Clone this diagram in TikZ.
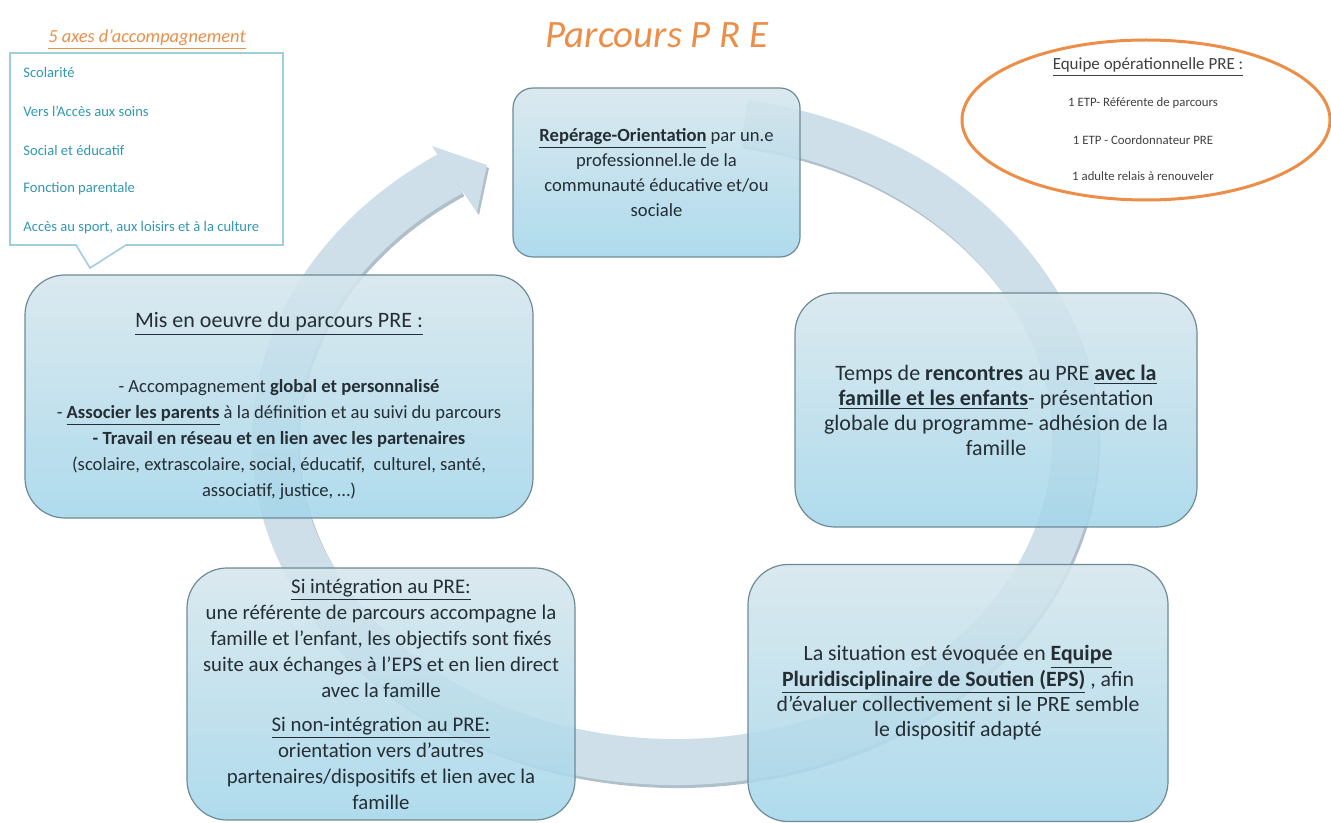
\documentclass[tikz,border=0pt]{standalone}
\usepackage{fontspec}
\setmainfont{Carlito}
\definecolor{orangePRE}{RGB}{236,142,72}
\definecolor{bandblue}{RGB}{206,223,233}
\definecolor{bandshadow}{RGB}{176,192,203}
\definecolor{boxtop}{RGB}{214,230,237}
\definecolor{boxbot}{RGB}{164,214,234}
\definecolor{boxline}{RGB}{110,138,150}
\definecolor{txtdark}{RGB}{36,46,52}
\definecolor{axeteal}{RGB}{50,152,178}
\definecolor{calloutline}{RGB}{160,206,221}
\tikzset{
  stepbox/.style={draw=boxline, line width=0.6pt, rounded corners=20pt,
    top color=boxtop, bottom color=boxbot, fill opacity=0.88, text opacity=1,
    text=txtdark, align=center, inner sep=0pt},
  boxtext/.style={font=\fontsize{10}{13}\selectfont},
  axe/.style={anchor=west, inner sep=0pt, text=axeteal, font=\fontsize{7.3}{8}\selectfont},
  etp/.style={inner sep=0pt, text=black!75, font=\fontsize{6.4}{7}\selectfont},
}
\begin{document}
\begin{tikzpicture}[x=0.5pt,y=-0.5pt]
\useasboundingbox (0,0) rectangle (1331,823);

% circular arrow behind the steps
\begin{scope}[shift={(2,3)}]
\draw[bandshadow,line width=23pt] (675,440) ++(-80:400 and 322)
  arc[start angle=-80,end angle=236,x radius=400,y radius=322];
\fill[bandshadow] (432,146) -- (487,165) -- (477,212) -- cycle;
\end{scope}
\draw[bandblue,line width=23pt] (675,440) ++(-80:400 and 322)
  arc[start angle=-80,end angle=236,x radius=400,y radius=322];
\fill[bandblue] (432,146) -- (487,165) -- (477,212) -- cycle;

% titles
\node[font=\fontsize{19.4}{21}\selectfont\itshape, text=orangePRE] (titre) at (657,35) {Parcours P R E};
\node[font=\fontsize{9.2}{10}\selectfont\itshape, text=orangePRE] (axes) at (147,40) {\underline{5 axes d’accompagnement}};

% callout with the 5 axes
\draw[calloutline, line width=0.8pt, fill=white] (10,53) -- (283,53) -- (283,245) -- (126,245)
  -- (90,268) -- (76,245) -- (10,245) -- cycle;
\foreach \txt [count=\i] in {Scolarité, Vers l’Accès aux soins, Social et éducatif,
  Fonction parentale, {Accès au sport, aux loisirs et à la culture}}
  \node[axe] (axe\i) at (23,{72+39*(\i-1)}) {\txt};

% operational team
\draw[orangePRE, line width=1.5pt, fill=white] (1146,120) ellipse [x radius=184, y radius=80];
\node[etp, font=\fontsize{8.5}{10}\selectfont] (equipe) at (1148,67) {\underline{Equipe opérationnelle PRE :}};
\node[etp] (etp1) at (1143,103) {1 ETP- Référente de parcours};
\node[etp] (etp2) at (1143,140) {1 ETP - Coordonnateur PRE};
\node[etp] (etp3) at (1143,176) {1 adulte relais à renouveler};

% the steps
\node[stepbox, rounded corners=10pt, minimum width=143.5pt, minimum height=84.5pt,
  font=\fontsize{9.3}{12.5}\selectfont] (reperage) at (656.5,172.5)
  {\underline{\textbf{Repérage-Orientation}} par un.e\\professionnel.le de la\\communauté éducative et/ou\\sociale};
\node[stepbox, minimum width=201pt, minimum height=117pt,
  font=\fontsize{11}{12.5}\selectfont] (rencontres) at (996,410)
  {Temps de \textbf{rencontres} au PRE \underline{\textbf{avec la}}\\\underline{\textbf{famille et les enfants}}- présentation\\globale du programme- adhésion de la\\famille};
\node[stepbox, minimum width=210pt, minimum height=128.5pt,
  font=\fontsize{10.9}{12.7}\selectfont] (eps) at (958,693)
  {La situation est évoquée en \underline{\textbf{Equipe}}\\\underline{\textbf{Pluridisciplinaire de Soutien (EPS)}} , afin\\d'évaluer collectivement si le PRE semble\\le dispositif adapté};
\node[stepbox, minimum width=194pt, minimum height=126pt,
  font=\fontsize{10.4}{13}\selectfont] (integration) at (381,694)
  {\underline{Si intégration au PRE:}\\une référente de parcours accompagne la\\famille et l'enfant, les objectifs sont fixés\\suite aux échanges à l'EPS et en lien direct\\avec la famille\\[4pt]\underline{Si non-intégration au PRE:}\\orientation vers d'autres\\partenaires/dispositifs et lien avec la\\famille};
\node[stepbox, minimum width=254pt, minimum height=121.5pt] (miseoeuvre) at (279,396.5) {};
\node[font=\fontsize{11}{12}\selectfont, text=txtdark] (misetitre) at (279,324)
  {\underline{Mis en oeuvre du parcours PRE :}};
\node[font=\fontsize{9.3}{13}\selectfont, text=txtdark, align=center] (misetexte) at (279,440)
  {- Accompagnement \textbf{global et personnalisé}\\- \underline{\textbf{Associer les parents}} à la définition et au suivi du parcours\\\textbf{- Travail en réseau et en lien avec les partenaires}\\(scolaire, extrascolaire, social, éducatif,~ culturel, santé,\\associatif, justice, …)};
\end{tikzpicture}
\end{document}
